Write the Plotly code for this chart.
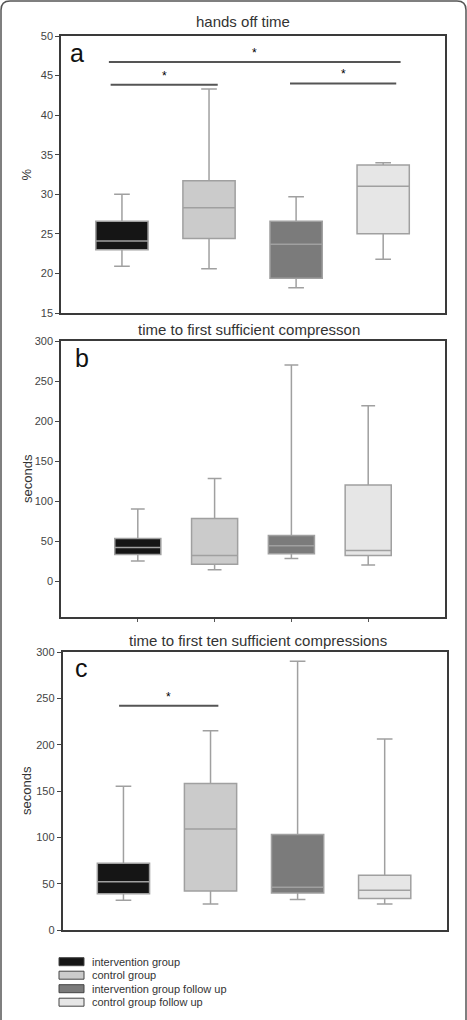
import plotly.graph_objects as go

W, H = 467, 1020

groups = ["intervention group", "control group",
          "intervention group follow up", "control group follow up"]
colors = ["#151515", "#cbcbcb", "#7b7b7b", "#e6e6e6"]

# panel a: hands off time (%)
a_low = [20.9, 20.6, 18.2, 21.8]
a_q1 = [23.0, 24.4, 19.4, 25.0]
a_med = [24.1, 28.3, 23.7, 31.0]
a_q3 = [26.6, 31.7, 26.6, 33.7]
a_high = [30.0, 43.3, 29.7, 34.0]

# panel b: time to first sufficient compression (s)
b_low = [25, 14, 28, 20]
b_q1 = [33, 21, 34, 32]
b_med = [42, 32, 44, 38]
b_q3 = [53, 78, 57, 120]
b_high = [90, 128, 270, 219]

# panel c: time to first ten sufficient compressions (s)
c_low = [32, 28, 33, 28]
c_q1 = [39, 42, 40, 34]
c_med = [52, 109, 46, 43]
c_q3 = [72, 158, 103, 59]
c_high = [155, 215, 290, 206]

titles = ["hands off time", "time to first sufficient compresson",
          "time to first ten sufficient compressions"]
letters = ["a", "b", "c"]
ytitles = ["%", "seconds", "seconds"]

# significance bars: (x start, x end, y)
a_sig = [(-0.15, 3.2, 46.7), (-0.13, 1.1, 43.85), (1.93, 3.15, 44.0)]
c_sig = [(-0.05, 1.09, 242)]

a_ticks = [15, 20, 25, 30, 35, 40, 45, 50]
bc_ticks = [0, 50, 100, 150, 200, 250, 300]

FONT = "Liberation Sans, Arial, sans-serif"


def px(x):
    return x / W


def py(y):
    return 1 - y / H


fig = go.Figure()

stats = [(a_low, a_q1, a_med, a_q3, a_high),
         (b_low, b_q1, b_med, b_q3, b_high),
         (c_low, c_q1, c_med, c_q3, c_high)]

for p, (lo, q1, md, q3, hi) in enumerate(stats):
    xa = "x" if p == 0 else f"x{p + 1}"
    ya = "y" if p == 0 else f"y{p + 1}"
    for i in range(4):
        fig.add_trace(go.Box(
            x=[i], q1=[q1[i]], median=[md[i]], q3=[q3[i]],
            lowerfence=[lo[i]], upperfence=[hi[i]],
            fillcolor=colors[i],
            line=dict(color="#a0a0a0", width=1.5),
            width=0.6, whiskerwidth=0.3, boxpoints=False,
            name=groups[i], showlegend=False,
            xaxis=xa, yaxis=ya, hoverinfo="skip"))

# pixel geometry of the three plot areas (top, bottom, left, right)
areas = [(36, 313, 61, 445), (341, 617, 61, 445), (652, 930, 62.5, 446.5)]
xranges = [[-0.7, 3.71], [-1, 4], [-0.7, 3.71]]
yranges = [[15, 50], [-45, 300], [0, 300]]
ytickvals = [a_ticks, bc_ticks, bc_ticks]

layout = dict(
    width=W, height=H, margin=dict(l=0, r=0, t=0, b=0),
    paper_bgcolor="white", plot_bgcolor="white",
    font=dict(family=FONT, color="#333"),
    showlegend=False, template="none",
)

for p in range(3):
    top, bot, left, right = areas[p]
    sx = "" if p == 0 else str(p + 1)
    layout["xaxis" + sx] = dict(
        domain=[px(left), px(right)], anchor="y" + sx, range=xranges[p],
        showline=True, mirror=True, linecolor="#3a3a3a", linewidth=1.5,
        showgrid=False, zeroline=False, showticklabels=False,
        tickvals=[0, 1, 2, 3], ticks="outside" if p == 1 else "",
        ticklen=3, tickcolor="#555", automargin=False)
    layout["yaxis" + sx] = dict(
        domain=[py(bot), py(top)], anchor="x" + sx, range=yranges[p],
        showline=True, mirror=True, linecolor="#3a3a3a", linewidth=1.5,
        showgrid=False, zeroline=False, tickvals=ytickvals[p],
        ticks="outside", ticklen=4, tickcolor="#444",
        tickfont=dict(size=11, color="#444", family=FONT), automargin=False)

fig.update_layout(**layout)

annotations = []
shapes = []

title_x = [243, 249, 258]
title_y = [21, 330, 640]
ytitle_x = [26, 27, 26]
for p in range(3):
    top, bot, left, right = areas[p]
    annotations.append(dict(
        x=px(title_x[p]), y=py(title_y[p]), xref="paper", yref="paper",
        text=titles[p], showarrow=False, xanchor="center", yanchor="middle",
        font=dict(size=15, color="#333")))
    annotations.append(dict(
        x=px(ytitle_x[p]), y=py((top + bot) / 2), xref="paper", yref="paper",
        text=ytitles[p], textangle=-90, showarrow=False,
        xanchor="center", yanchor="middle", font=dict(size=13, color="#333")))

letter_pos = [(77, 53), (82, 358), (81, 668)]
for p in range(3):
    lx, ly = letter_pos[p]
    annotations.append(dict(
        x=px(lx), y=py(ly), xref="paper", yref="paper", text=letters[p],
        showarrow=False, xanchor="center", yanchor="middle",
        font=dict(size=25, color="#111")))

for p, sigs in [(0, a_sig), (2, c_sig)]:
    sx = "" if p == 0 else str(p + 1)
    for (x0, x1, y) in sigs:
        shapes.append(dict(type="line", xref="x" + sx, yref="y" + sx,
                           x0=x0, x1=x1, y0=y, y1=y,
                           line=dict(color="#555", width=2)))
        annotations.append(dict(
            x=(x0 + x1) / 2, y=y, xref="x" + sx, yref="y" + sx, text="*",
            showarrow=False, xanchor="center", yanchor="bottom",
            font=dict(size=12, color="#000")))

# legend
leg_y = [961.7, 975.2, 988.7, 1002.2]
for i in range(4):
    y = leg_y[i]
    shapes.append(dict(type="rect", xref="paper", yref="paper",
                       x0=px(59), x1=px(84), y0=py(y + 4), y1=py(y - 4),
                       fillcolor=colors[i],
                       line=dict(color="#444", width=1)))
    annotations.append(dict(
        x=px(90), y=py(y), xref="paper", yref="paper", text=groups[i],
        showarrow=False, xanchor="left", yanchor="middle",
        font=dict(size=11, color="#333")))

# outer rounded frame
r = 9
path = (f"M {px(1)},{py(1020)} L {px(1)},{py(1 + r)} "
        f"Q {px(1)},{py(1)} {px(1 + r)},{py(1)} "
        f"L {px(466 - r)},{py(1)} Q {px(466)},{py(1)} {px(466)},{py(1 + r)} "
        f"L {px(466)},{py(1020)}")
shapes.append(dict(type="path", xref="paper", yref="paper", path=path,
                   line=dict(color="#555", width=1.5)))

fig.update_layout(annotations=annotations, shapes=shapes)

fig.write_html("out.html")
